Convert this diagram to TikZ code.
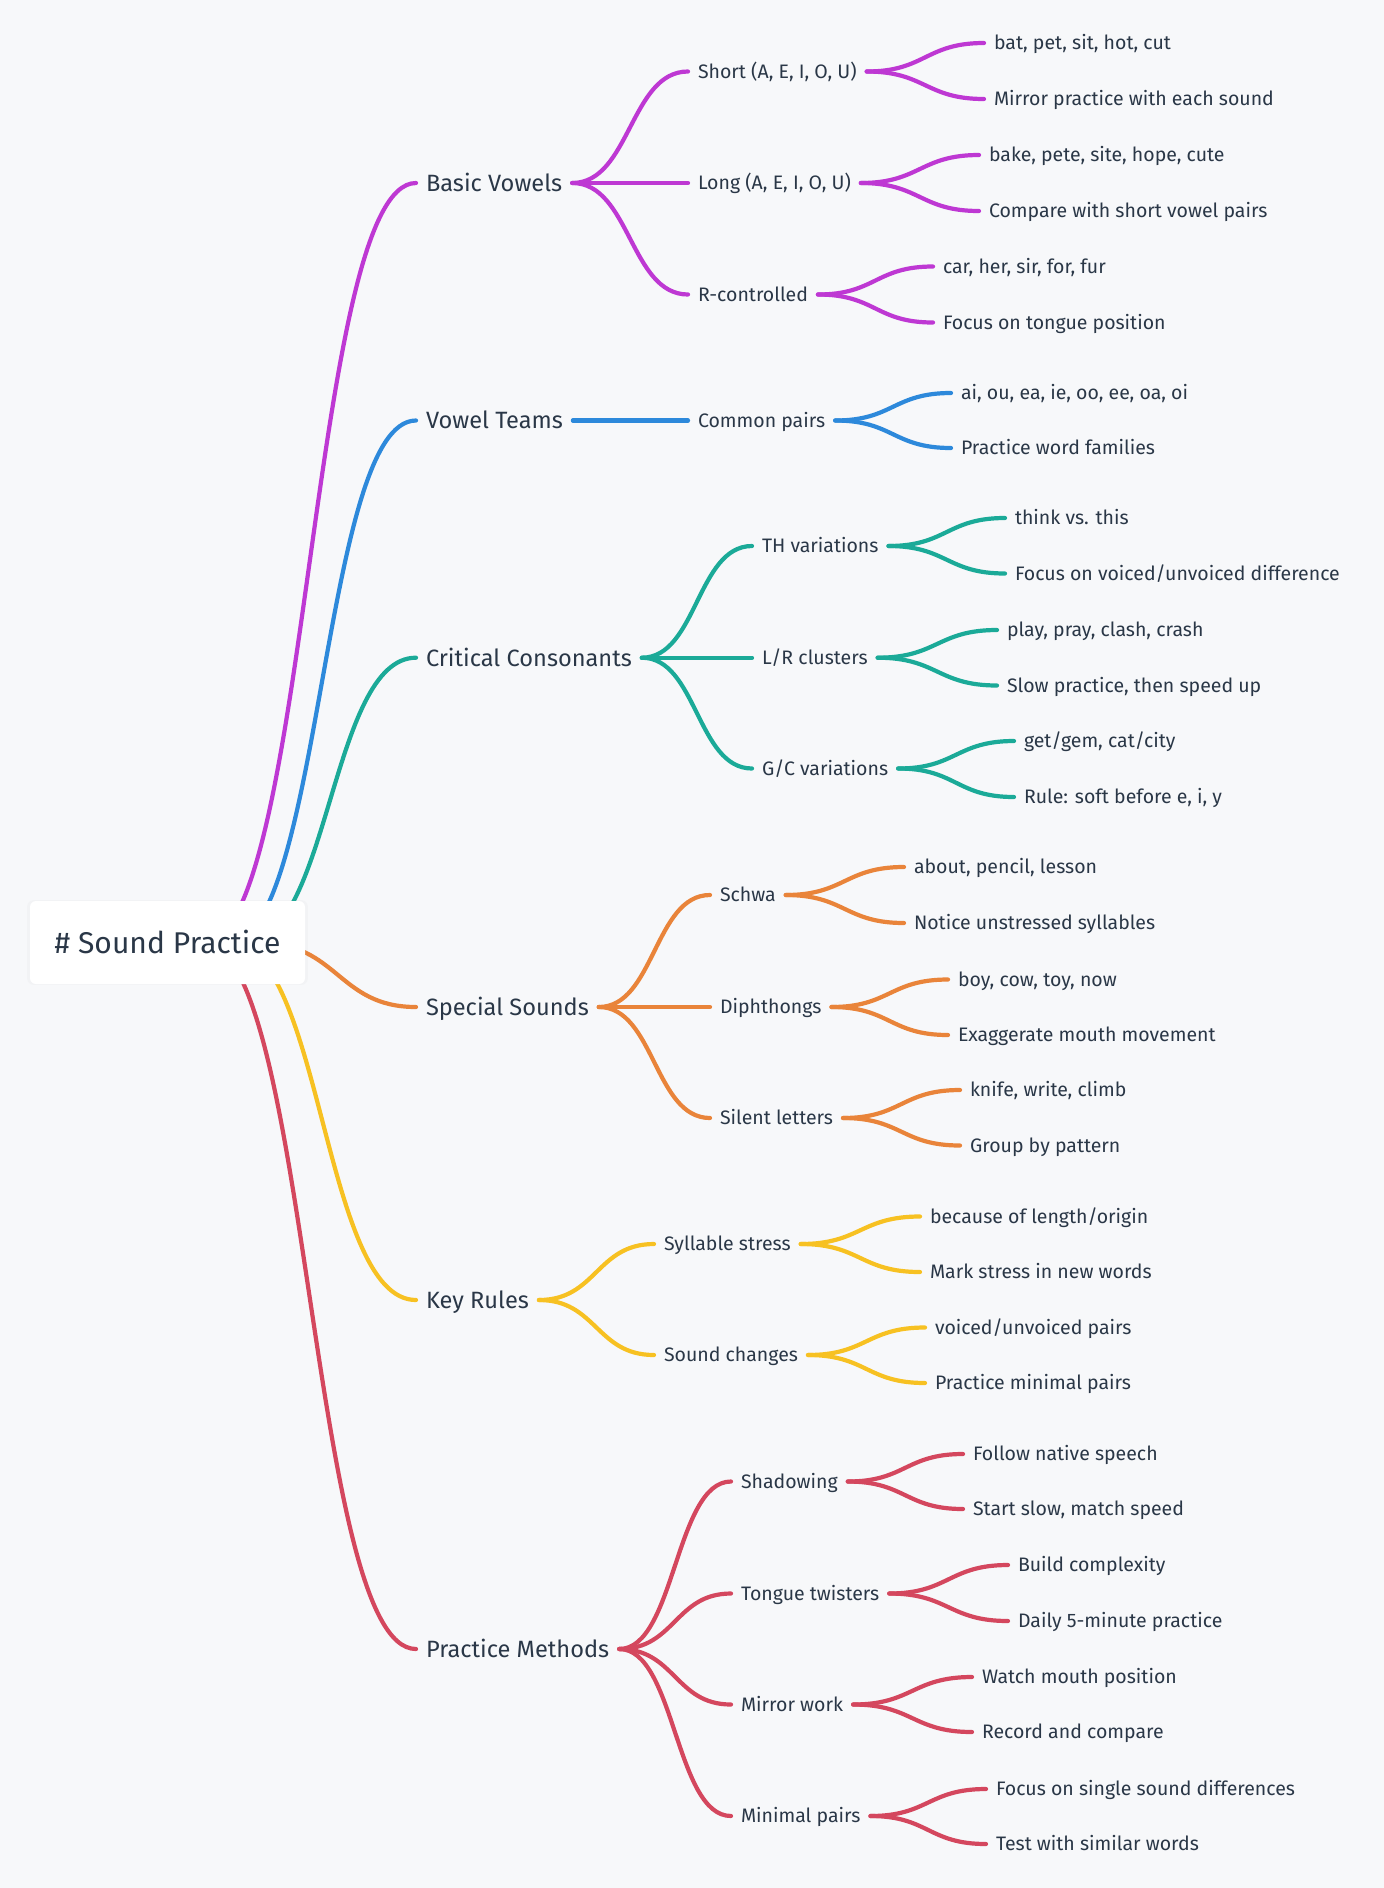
\documentclass[tikz,border=0pt]{standalone}
\usepackage{fontspec}
\setmainfont{Fira Sans}
\usepackage{tikz}
\usetikzlibrary{calc}
\usetikzlibrary{shadows}
\usepackage{xcolor}
\definecolor{bgcol}{HTML}{F7F8FA}
\definecolor{txtcol}{HTML}{2A3747}
\definecolor{colBasic}{HTML}{BE38D3}
\definecolor{colTeams}{HTML}{2D89DB}
\definecolor{colCons}{HTML}{1BAA98}
\definecolor{colSpecial}{HTML}{E9843A}
\definecolor{colRules}{HTML}{F7C122}
\definecolor{colMethods}{HTML}{D4475E}

\tikzset{
  link/.style={line width=4.2pt, line cap=round,
    to path={.. controls ($(\tikztostart)!0.5!(\tikztotarget|-\tikztostart)$)
      and ($(\tikztotarget)!0.5!(\tikztostart|-\tikztotarget)$) .. (\tikztotarget)}},
  lvone/.style={anchor=west, inner xsep=10pt, inner ysep=0pt, outer sep=0pt,
    text=txtcol, text height=21pt, text depth=4.4pt, font=\fontsize{23.6}{28}\selectfont},
  item/.style={anchor=west, inner xsep=10pt, inner ysep=0pt, outer sep=0pt,
    text=txtcol, text height=17.5pt, text depth=4pt, font=\fontsize{19.5}{23}\selectfont},
  rootbox/.style={fill=white, rounded corners=6pt, minimum width=275pt, minimum height=83pt,
    text=txtcol, text height=26pt, text depth=5pt, font=\fontsize{30}{34}\selectfont,
    drop shadow={opacity=0.04, shadow xshift=0pt, shadow yshift=0pt, shadow scale=1.02}}
}

\begin{document}
\begin{tikzpicture}[x=1pt,y=-1pt]
\fill [bgcol] (0,0) rectangle (1384,1888);
\useasboundingbox (0,0) rectangle (1384,1888);

\node [lvone] (bv) at (416,183) {Basic Vowels};
\node [lvone] (vt) at (416,420.5) {Vowel Teams};
\node [lvone] (cc) at (416,657.7) {Critical Consonants};
\node [lvone] (ss) at (416,1007) {Special Sounds};
\node [lvone] (kr) at (416,1300) {Key Rules};
\node [lvone] (pm) at (416,1649) {Practice Methods};

\node [item] (short) at (688,71.5) {Short (A, E, I, O, U)};
\node [item] (long) at (688,183) {Long (A, E, I, O, U)};
\node [item] (rctl) at (688,294.5) {R-controlled};
\node [item] (pairs) at (688,420.5) {Common pairs};
\node [item] (th) at (752,546) {TH variations};
\node [item] (lr) at (752,657.7) {L/R clusters};
\node [item] (gc) at (752,768.5) {G/C variations};
\node [item] (schwa) at (710,895) {Schwa};
\node [item] (diph) at (710,1007) {Diphthongs};
\node [item] (silent) at (710,1118) {Silent letters};
\node [item] (stress) at (654,1244) {Syllable stress};
\node [item] (change) at (654,1355) {Sound changes};
\node [item] (shadow) at (731,1481.5) {Shadowing};
\node [item] (twist) at (731,1593.5) {Tongue twisters};
\node [item] (mirror) at (731,1704.5) {Mirror work};
\node [item] (minimal) at (731,1816) {Minimal pairs};

\node [item] (shortA) at (984,43) {bat, pet, sit, hot, cut};
\node [item] (shortB) at (984,99) {Mirror practice with each sound};
\node [item] (longA) at (979,155) {bake, pete, site, hope, cute};
\node [item] (longB) at (979,211) {Compare with short vowel pairs};
\node [item] (rctlA) at (933,266.5) {car, her, sir, for, fur};
\node [item] (rctlB) at (933,322.5) {Focus on tongue position};
\node [item] (pairsA) at (951,393) {ai, ou, ea, ie, oo, ee, oa, oi};
\node [item] (pairsB) at (951,448) {Practice word families};
\node [item] (thA) at (1005,518) {think vs. this};
\node [item] (thB) at (1005,573.5) {Focus on voiced/unvoiced difference};
\node [item] (lrA) at (997,630) {play, pray, clash, crash};
\node [item] (lrB) at (997,685.5) {Slow practice, then speed up};
\node [item] (gcA) at (1014,741) {get/gem, cat/city};
\node [item] (gcB) at (1014,797) {Rule: soft before e, i, y};
\node [item] (schwaA) at (904,867) {about, pencil, lesson};
\node [item] (schwaB) at (904,923) {Notice unstressed syllables};
\node [item] (diphA) at (948,979.5) {boy, cow, toy, now};
\node [item] (diphB) at (948,1035) {Exaggerate mouth movement};
\node [item] (silentA) at (960,1090) {knife, write, climb};
\node [item] (silentB) at (960,1145.5) {Group by pattern};
\node [item] (stressA) at (920,1216.5) {because of length/origin};
\node [item] (stressB) at (920,1272) {Mark stress in new words};
\node [item] (changeA) at (925,1327.5) {voiced/unvoiced pairs};
\node [item] (changeB) at (925,1383) {Practice minimal pairs};
\node [item] (shadowA) at (963,1454) {Follow native speech};
\node [item] (shadowB) at (963,1509) {Start slow, match speed};
\node [item] (twistA) at (1008,1565) {Build complexity};
\node [item] (twistB) at (1008,1621) {Daily 5-minute practice};
\node [item] (mirrorA) at (972,1677) {Watch mouth position};
\node [item] (mirrorB) at (972,1732) {Record and compare};
\node [item] (minimalA) at (986,1789) {Focus on single sound differences};
\node [item] (minimalB) at (986,1844) {Test with similar words};

\coordinate (o1) at (203,943);
\coordinate (o2) at (228,943);
\coordinate (o3) at (244,943);
\coordinate (o4) at (260,943);
\coordinate (o5) at (229,943);
\coordinate (o6) at (203,943);

\draw [link, colBasic] (o1) to (bv.west);
\draw [link, colTeams] (o2) to (vt.west);
\draw [link, colCons] (o3) to (cc.west);
\draw [link, colSpecial] (o4) to (ss.west);
\draw [link, colRules] (o5) to (kr.west);
\draw [link, colMethods] (o6) to (pm.west);

\draw [link, colBasic] (bv.east) to (short.west);
\draw [link, colBasic] (bv.east) to (long.west);
\draw [link, colBasic] (bv.east) to (rctl.west);
\draw [link, colBasic] (short.east) to (shortA.west);
\draw [link, colBasic] (short.east) to (shortB.west);
\draw [link, colBasic] (long.east) to (longA.west);
\draw [link, colBasic] (long.east) to (longB.west);
\draw [link, colBasic] (rctl.east) to (rctlA.west);
\draw [link, colBasic] (rctl.east) to (rctlB.west);

\draw [link, colTeams] (vt.east) to (pairs.west);
\draw [link, colTeams] (pairs.east) to (pairsA.west);
\draw [link, colTeams] (pairs.east) to (pairsB.west);

\draw [link, colCons] (cc.east) to (th.west);
\draw [link, colCons] (cc.east) to (lr.west);
\draw [link, colCons] (cc.east) to (gc.west);
\draw [link, colCons] (th.east) to (thA.west);
\draw [link, colCons] (th.east) to (thB.west);
\draw [link, colCons] (lr.east) to (lrA.west);
\draw [link, colCons] (lr.east) to (lrB.west);
\draw [link, colCons] (gc.east) to (gcA.west);
\draw [link, colCons] (gc.east) to (gcB.west);

\draw [link, colSpecial] (ss.east) to (schwa.west);
\draw [link, colSpecial] (ss.east) to (diph.west);
\draw [link, colSpecial] (ss.east) to (silent.west);
\draw [link, colSpecial] (schwa.east) to (schwaA.west);
\draw [link, colSpecial] (schwa.east) to (schwaB.west);
\draw [link, colSpecial] (diph.east) to (diphA.west);
\draw [link, colSpecial] (diph.east) to (diphB.west);
\draw [link, colSpecial] (silent.east) to (silentA.west);
\draw [link, colSpecial] (silent.east) to (silentB.west);

\draw [link, colRules] (kr.east) to (stress.west);
\draw [link, colRules] (kr.east) to (change.west);
\draw [link, colRules] (stress.east) to (stressA.west);
\draw [link, colRules] (stress.east) to (stressB.west);
\draw [link, colRules] (change.east) to (changeA.west);
\draw [link, colRules] (change.east) to (changeB.west);

\draw [link, colMethods] (pm.east) to (shadow.west);
\draw [link, colMethods] (pm.east) to (twist.west);
\draw [link, colMethods] (pm.east) to (mirror.west);
\draw [link, colMethods] (pm.east) to (minimal.west);
\draw [link, colMethods] (shadow.east) to (shadowA.west);
\draw [link, colMethods] (shadow.east) to (shadowB.west);
\draw [link, colMethods] (twist.east) to (twistA.west);
\draw [link, colMethods] (twist.east) to (twistB.west);
\draw [link, colMethods] (mirror.east) to (mirrorA.west);
\draw [link, colMethods] (mirror.east) to (mirrorB.west);
\draw [link, colMethods] (minimal.east) to (minimalA.west);
\draw [link, colMethods] (minimal.east) to (minimalB.west);

\node [rootbox] (root) at (167.5,942.5) {\# Sound Practice};
\end{tikzpicture}
\end{document}
